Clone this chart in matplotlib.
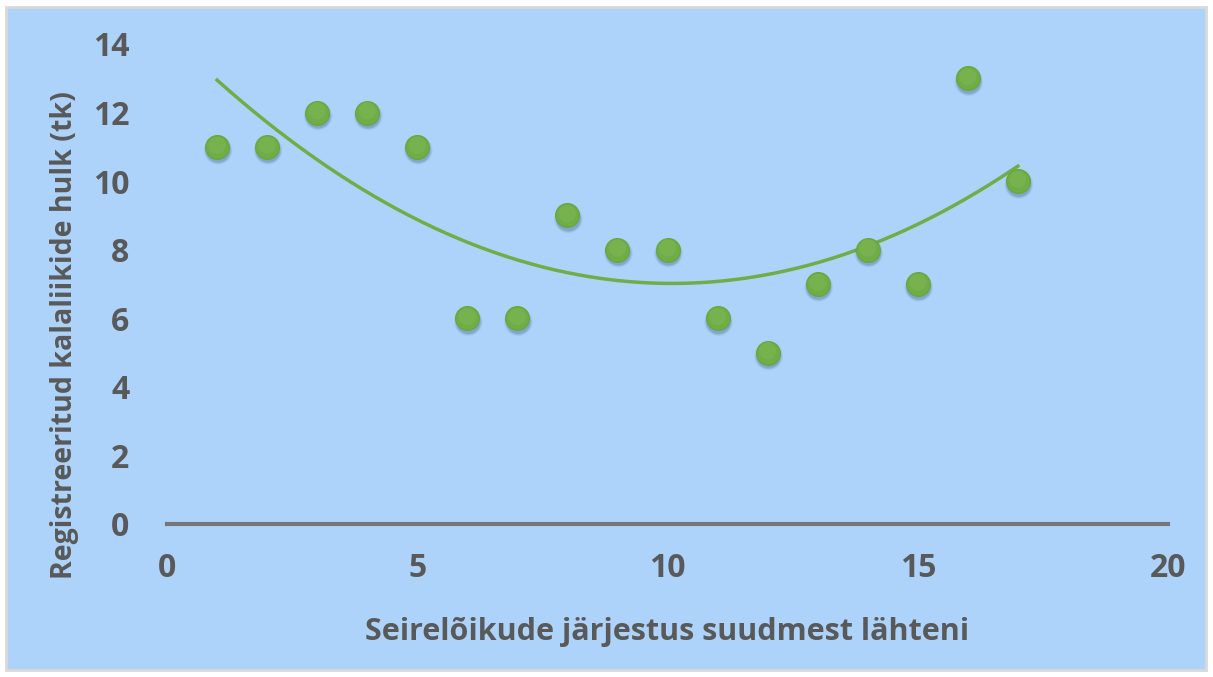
import numpy as np
import matplotlib.pyplot as plt
from matplotlib.patches import Rectangle

# seirelõigud ja kalaliikide arv
segments = np.arange(1, 18)
species = [11, 11, 12, 12, 11, 6, 6, 9, 8, 8, 6, 5, 7, 8, 7, 13, 10]

xlabel = "Seirelõikude järjestus suudmest lähteni"
ylabel = "Registreeritud kalaliikide hulk (tk)"

bg = "#add3fb"
green = "#70ad47"
grey = "#595959"

plt.rcParams['font.family'] = ['Open Sans', 'DejaVu Sans']

fig = plt.figure(figsize=(12.13, 6.77), dpi=100, facecolor="white")
fig.patches.append(Rectangle((6 / 1213, 7 / 677), 1200 / 1213, 663 / 677,
                             transform=fig.transFigure, facecolor=bg,
                             edgecolor="#d9d9d9", linewidth=2, zorder=-10))

ax = fig.add_axes([167 / 1213, 1 - 524 / 677, 1001 / 1213, 480 / 677])
ax.set_zorder(1)
ax.set_facecolor("none")

# 2. astme polünoomne trend
coef = np.polyfit(segments, species, 2)
xs = np.linspace(segments.min(), segments.max(), 200)
ax.plot(xs, np.polyval(coef, xs), color=green, lw=2.5, zorder=2)

# vari (pehme, otse all)
sp = np.array(species)
for s, a in [(420, 0.08), (360, 0.12), (310, 0.16)]:
    ax.scatter(segments + 0.02, sp - 0.1, s=s, color="#2a4a70",
               alpha=a, edgecolors="none", zorder=2.5)
ax.scatter(segments, sp, s=290, color=green, edgecolors="#68a83e",
           linewidths=1, zorder=3)
ax.scatter(segments, sp + 0.05, s=150, color="#7db655", alpha=0.6,
           edgecolors="none", zorder=3.1)

ax.set_xlim(0, 20)
ax.set_ylim(0, 14)
ax.set_xticks([0, 5, 10, 15, 20])
ax.set_yticks(range(0, 15, 2))
for s in ["top", "right", "left"]:
    ax.spines[s].set_visible(False)
ax.spines["bottom"].set_color("#767676")
ax.spines["bottom"].set_linewidth(3)
ax.tick_params(length=0, labelsize=23, labelcolor=grey, pad=20)
ax.tick_params(axis="y", pad=27)
for lab in ax.get_xticklabels() + ax.get_yticklabels():
    lab.set_fontweight("bold")

fig.text(667 / 1213, 1 - 632 / 677, xlabel, ha="center", va="center",
         fontsize=22, fontweight="bold", color=grey)
fig.text(65 / 1213, 1 - 335 / 677, ylabel, ha="center", va="center",
         rotation=90, fontsize=20.5, fontweight="bold", color=grey)

fig.savefig("out.png", dpi=100, facecolor="white")
